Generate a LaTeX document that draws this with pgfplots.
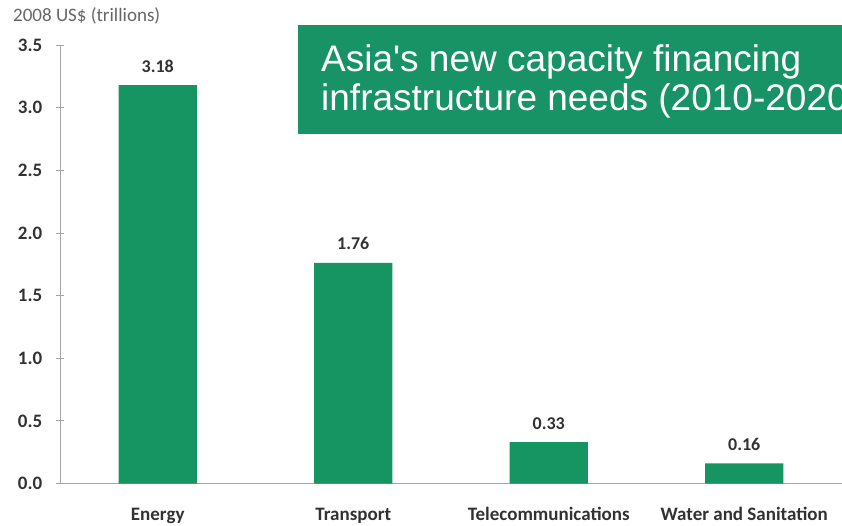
\documentclass[border=0pt]{standalone}
\usepackage{fontspec}
\usepackage{pgfplots}
\pgfplotsset{compat=1.18}
\newfontfamily\carlito{Carlito}
\newfontfamily\arialf{Liberation Sans}
\definecolor{bargreen}{RGB}{22,148,98}
\definecolor{boxgreen}{RGB}{23,147,101}
\definecolor{axgray}{RGB}{165,165,165}
\definecolor{txtdark}{RGB}{50,50,50}
\begin{document}
\begin{tikzpicture}[x=1pt,y=1pt]
\useasboundingbox (0,0) rectangle (842,525);
\begin{axis}[
  at={(60pt,41.5pt)}, anchor=south west,
  scale only axis, width=782pt, height=438.5pt,
  xmin=-0.5, xmax=3.5, ymin=0, ymax=3.5,
  axis lines=left,
  axis line style={axgray, line width=1pt, -},
  xtick=data,
  xticklabels={Energy, Transport, Telecommunications, Water and Sanitation},
  x tick style={draw=none},
  ytick={0,0.5,...,3.5},
  y tick style={axgray, line width=0.8pt},
  tick align=center, major tick length=7pt,
  /pgf/number format/assume math mode=true,
  /pgf/number format/.cd, fixed, fixed zerofill, precision=1, /pgfplots/.cd,
  tick label style={font=\carlito\bfseries\fontsize{19}{22}\selectfont, text=txtdark},
  xticklabel style={anchor=base, yshift=-29.5pt},
  yticklabel style={anchor=east, inner sep=0pt, xshift=-14pt},
  ybar, bar width=0.4,
  nodes near coords,
  nodes near coords style={anchor=base, yshift=13pt, font=\carlito\bfseries\fontsize{18}{21}\selectfont, text=txtdark,
    /pgf/number format/.cd, fixed, fixed zerofill, precision=2},
  clip=false,
]
\addplot[fill=bargreen, draw=none] coordinates {(0,3.18) (1,1.76) (2,0.33) (3,0.16)};
\end{axis}
\node[anchor=base west, inner sep=0pt, text=black!60, font=\carlito\fontsize{19}{22}\selectfont] at (13,503.3) {2008 US\$ (trillions)};
\begin{scope}
\clip (0,0) rectangle (842,525);
\fill[boxgreen] (298,391) rectangle (900,500);
\node[anchor=base west, inner sep=0pt, text=white, font=\arialf\fontsize{37}{39}\selectfont] at (321,453.3) {Asia's new capacity financing};
\node[anchor=base west, inner sep=0pt, text=white, font=\arialf\fontsize{37}{39}\selectfont] at (321,414) {infrastructure needs (2010-2020)};
\end{scope}
\end{tikzpicture}
\end{document}
